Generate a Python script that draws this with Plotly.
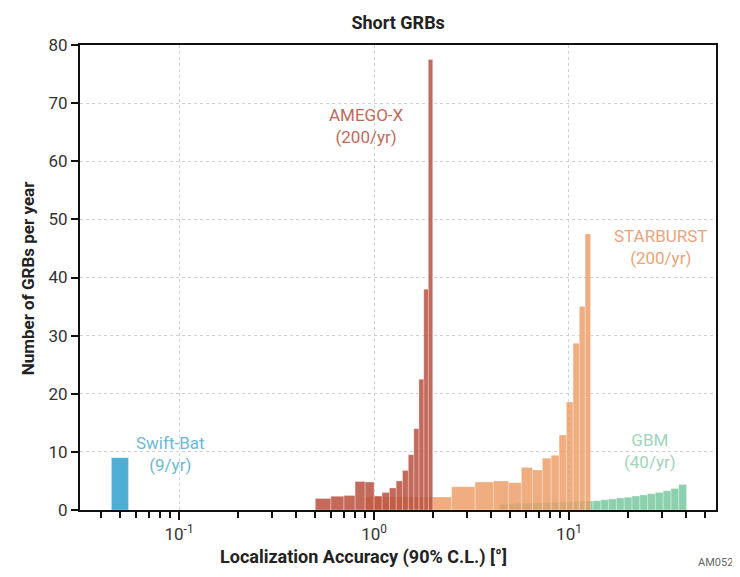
import math
import plotly.graph_objects as go

# ---------------- data ----------------
swift_edges = [0.045, 0.055]
swift_vals = [9.0]

amego_edges = [0.5, 0.6, 0.7, 0.8, 0.9, 1.0, 1.1, 1.2, 1.3, 1.4, 1.5, 1.6, 1.7, 1.8, 1.9, 2.0]
amego_vals = [2.0, 2.35, 2.5, 4.9, 4.8, 2.4, 3.0, 3.8, 5.0, 6.8, 9.5, 14.0, 22.5, 38.0, 77.5]

starburst_edges = [0.9, 1.7, 2.5, 3.3, 4.1, 4.9, 5.7, 6.5, 7.3, 8.1, 8.9, 9.7, 10.5, 11.3, 12.1, 12.9]
starburst_vals = [2.3, 2.25, 4.0, 4.8, 5.0, 4.7, 7.3, 6.9, 8.9, 9.4, 12.9, 18.6, 28.7, 35.0, 47.5]

gbm_edges = [4.40, 4.82, 5.29, 5.80, 6.36, 6.97, 7.64, 8.38, 9.19, 10.07, 11.04, 12.11, 13.28,
             14.56, 15.96, 17.50, 19.19, 21.04, 23.07, 25.29, 27.73, 30.41, 33.34, 36.56, 40.08]
gbm_vals = [1.0, 1.05, 1.1, 1.15, 1.2, 1.25, 1.3, 1.35, 1.4, 1.45, 1.5, 1.55,
            1.6, 1.75, 1.9, 2.05, 2.2, 2.4, 2.6, 2.8, 3.0, 3.3, 3.7, 4.4]

xtick_vals = [0.1, 1, 10]
xtick_text = ["10<sup>-1</sup>", "10<sup>0</sup>", "10<sup>1</sup>"]
ytick_vals = [0, 10, 20, 30, 40, 50, 60, 70, 80]

FONT = "Roboto, Liberation Sans, sans-serif"


def hist_xy(edges, vals):
    xs, ys = [], []
    for i, v in enumerate(vals):
        x0, x1 = edges[i], edges[i + 1]
        xs += [x0, x0, x1, x1, x0, None]
        ys += [0, v, v, 0, 0, None]
    return xs, ys


fig = go.Figure()

series = [
    ("GBM", gbm_edges, gbm_vals, "rgba(120,200,160,0.85)"),
    ("STARBURST", starburst_edges, starburst_vals, "rgba(235,155,100,0.82)"),
    ("AMEGO-X", amego_edges, amego_vals, "rgba(185,80,62,0.85)"),
    ("Swift-Bat", swift_edges, swift_vals, "rgba(70,170,210,0.95)"),
]
for name, e, v, c in series:
    xs, ys = hist_xy(e, v)
    fig.add_trace(go.Scatter(
        x=xs, y=ys, mode="lines", fill="toself", fillcolor=c,
        line=dict(color="rgba(255,255,255,0.35)", width=0.8),
        name=name, showlegend=False, hoverinfo="skip"))

minor_vals = []
for dec in [0.01, 0.1, 1, 10]:
    for m in range(2, 10):
        minor_vals.append(m * dec)

# label positions (data units; log axis annotations take log10 x)
annos = [
    dict(x=0.91, y=66, text="AMEGO-X<br>(200/yr)", color="#c06a5c"),
    dict(x=29.3, y=45.3, text="STARBURST<br>(200/yr)", color="#eba47a"),
    dict(x=26.0, y=10.2, text="GBM<br>(40/yr)", color="#9fd4bb"),
    dict(x=0.09, y=9.6, text="Swift-Bat<br>(9/yr)", color="#6cb8d6"),
]
for a in annos:
    fig.add_annotation(x=math.log10(a["x"]), y=a["y"], xref="x", yref="y",
                       xanchor="center", yanchor="middle", text=a["text"],
                       showarrow=False,
                       font=dict(family=FONT, size=17, color=a["color"]))

fig.add_annotation(x=0.445, y=-0.101, xref="paper", yref="paper", xanchor="center",
                   yanchor="middle", showarrow=False,
                   text="<b>Localization Accuracy (90% C.L.) [°]</b>",
                   font=dict(family=FONT, size=18, color="#222"))
fig.add_annotation(x=-0.082, y=0.5, xref="paper", yref="paper", xanchor="center",
                   yanchor="middle", showarrow=False, textangle=-90,
                   text="<b>Number of GRBs per year</b>",
                   font=dict(family=FONT, size=17, color="#222"))
fig.add_annotation(x=1.0, y=-0.112, xref="paper", yref="paper", xanchor="right",
                   yanchor="middle", showarrow=False, text="AM052",
                   font=dict(family=FONT, size=11, color="#666"), xshift=19)

# page body adds an 8px offset; size/margins compensate so the plot area
# lands at x 80..716, y 45..510 of the 740x577 window
fig.update_layout(
    width=732, height=569,
    margin=dict(l=72, r=24, t=37, b=67),
    paper_bgcolor="white", plot_bgcolor="white",
    title=dict(text="<b>Short GRBs</b>", x=0.533, xanchor="center",
               xref="container", yref="container", y=0.975,
               yanchor="middle", font=dict(family=FONT, size=18, color="#222")),
    font=dict(family=FONT, size=17, color="#333"),
)
fig.update_xaxes(
    type="log", range=[-1.508, 1.754],
    tickvals=xtick_vals, ticktext=xtick_text,
    ticks="outside", ticklen=8, tickwidth=2, tickcolor="#111",
    minor=dict(tickvals=minor_vals, ticks="outside", ticklen=6, tickwidth=1.5,
               tickcolor="#111", showgrid=False),
    showline=True, linecolor="#111", linewidth=2, mirror=True,
    showgrid=True, gridcolor="#d0d0d0", griddash="dot", gridwidth=1,
    tickfont=dict(family=FONT, size=17, color="#333"),
    zeroline=False,
)
fig.update_yaxes(
    range=[0, 80], tickvals=ytick_vals,
    ticks="outside", ticklen=7, tickwidth=2, tickcolor="#111",
    showline=True, linecolor="#111", linewidth=2, mirror=True,
    showgrid=True, gridcolor="#d0d0d0", griddash="dot", gridwidth=1,
    tickfont=dict(family=FONT, size=17, color="#333"),
    zeroline=False,
)

fig.write_html("out.html")
